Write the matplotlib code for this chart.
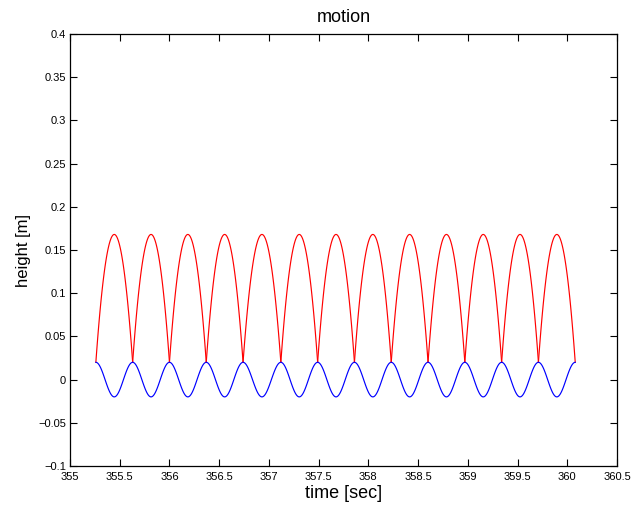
import numpy as np
import matplotlib
matplotlib.use('Agg')
import matplotlib.pyplot as plt
from matplotlib.ticker import FuncFormatter, MultipleLocator

# contact times of the ball with the plate [sec]
impact_times = [355.26, 355.63, 356.00, 356.37, 356.74, 357.12, 357.49,
                357.86, 358.23, 358.60, 358.97, 359.34, 359.71, 360.08]
# apex height of each flight phase [m]
apex_heights = [0.168, 0.168, 0.168, 0.168, 0.168, 0.168, 0.168,
                0.168, 0.168, 0.168, 0.168, 0.168, 0.168]
plate_amp = 0.02   # plate oscillation amplitude [m]

plt.rcParams['font.family'] = ['Liberation Sans', 'DejaVu Sans']

fig = plt.figure(figsize=(6.34, 5.05), dpi=100)
ax = fig.add_axes([70/634, 1-466/505, 547/634, 432/505])

#.........................ball and plate per flight phase.....................
for i in range(len(apex_heights)):
    t0, t1 = impact_times[i], impact_times[i+1]
    t = np.linspace(t0, t1, 80)
    s = (t - t0) / (t1 - t0)
    # ballistic arc from plate top to apex and back
    ball = plate_amp + (apex_heights[i] - plate_amp) * 4 * s * (1 - s)
    plate = plate_amp * np.cos(2 * np.pi * s)
    ax.plot(t, ball, color='r', lw=0.85)
    ax.plot(t, plate, color='b', lw=0.85)

#...................axes......................................................
ax.set_xlim(355, 360.5)
ax.set_ylim(-0.1, 0.4)
ax.xaxis.set_major_locator(MultipleLocator(0.5))
ax.yaxis.set_major_locator(MultipleLocator(0.05))
fmt = FuncFormatter(lambda v, p: ('%g' % round(v, 4)).replace('-', '\u2212'))
ax.xaxis.set_major_formatter(fmt)
ax.yaxis.set_major_formatter(fmt)
ax.tick_params(direction='in', top=True, right=True, length=5, width=0.8,
               labelsize=8)
ax.tick_params(axis='x', pad=4.5)
ax.tick_params(axis='y', pad=3)
for sp in ax.spines.values():
    sp.set_linewidth(0.9)

ax.set_title('motion', fontsize=13, pad=9)
ax.set_xlabel('time [sec]', fontsize=13, labelpad=2)
ax.set_ylabel('height [m]', fontsize=12, labelpad=5)

fig.savefig('out.png', dpi=100)
